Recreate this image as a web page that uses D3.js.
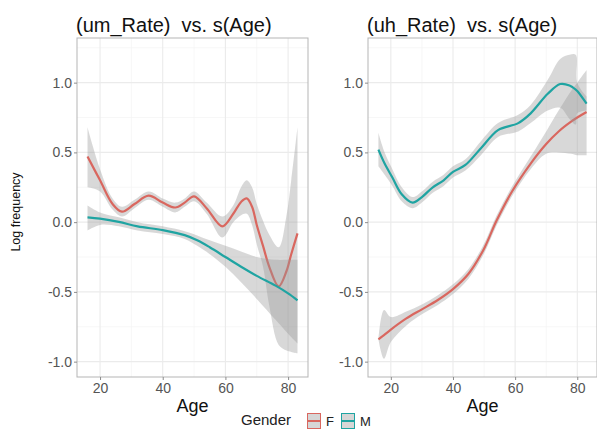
<!DOCTYPE html>
<html>
<head>
<meta charset="utf-8">
<script src="https://cdn.jsdelivr.net/npm/d3@7/dist/d3.min.js"></script>
<style>
  body { margin: 0; background: #fff; }
  text { font-family: "Liberation Sans", Arial, sans-serif; }
</style>
</head>
<body>
<div id="chart"></div>
<script>
var w = 597,
    h = 430;

// panel titles, ticks, legend
var titles = ["(um_Rate)  vs. s(Age)", "(uh_Rate)  vs. s(Age)"];
var xTicks = [20, 40, 60, 80],
    xMinor = [30, 50, 70],
    yTicks = [-1.0, -0.5, 0.0, 0.5, 1.0],
    yMinor = [-0.75, -0.25, 0.25, 0.75, 1.25];
var genders = ["F", "M"];

// um_Rate, F
var umAgeF = [16, 20, 24, 27, 31, 35.5, 40, 44, 47, 50, 54, 59, 62.5, 65, 66.8, 68.5, 70, 72, 74, 77, 79.5, 81, 83];
var umFitF = [0.47, 0.30, 0.13, 0.075, 0.13, 0.19, 0.14, 0.105, 0.14, 0.185, 0.10, -0.03, 0.06, 0.145, 0.17, 0.11, -0.02, -0.17, -0.32, -0.46, -0.35, -0.23, -0.08];
var umHiF  = [0.68, 0.38, 0.17, 0.11, 0.16, 0.22, 0.17, 0.14, 0.17, 0.22, 0.14, 0.04, 0.12, 0.25, 0.30, 0.25, 0.13, 0.01, -0.09, -0.18, 0.05, 0.30, 0.68];
var umLoF  = [0.25, 0.22, 0.09, 0.04, 0.10, 0.16, 0.11, 0.07, 0.11, 0.15, 0.06, -0.11, 0.00, 0.05, 0.06, -0.02, -0.16, -0.32, -0.60, -0.88, -0.92, -0.93, -0.94];

// um_Rate, M
var umAgeM = [16, 20, 26, 32, 40, 47, 51, 55, 60, 65, 70, 76, 80, 83];
var umFitM = [0.034, 0.025, 0.002, -0.03, -0.057, -0.093, -0.13, -0.18, -0.25, -0.32, -0.385, -0.455, -0.51, -0.56];
var umHiM  = [0.12, 0.07, 0.035, 0.0, -0.03, -0.065, -0.095, -0.13, -0.17, -0.21, -0.25, -0.27, -0.27, -0.27];
var umLoM  = [-0.06, -0.02, -0.03, -0.06, -0.085, -0.12, -0.17, -0.23, -0.32, -0.43, -0.55, -0.70, -0.80, -0.87];

// uh_Rate, F
var uhAgeF = [16, 17.8, 20, 25, 30, 35, 40, 45, 50, 54, 59, 65, 70, 74, 78, 80, 83];
var uhFitF = [-0.84, -0.81, -0.77, -0.69, -0.625, -0.56, -0.48, -0.37, -0.19, 0.01, 0.22, 0.42, 0.56, 0.65, 0.72, 0.75, 0.79];
var uhHiF  = [-0.84, -0.63, -0.68, -0.64, -0.59, -0.525, -0.445, -0.335, -0.155, 0.045, 0.255, 0.47, 0.65, 0.80, 0.94, 1.0, 1.09];
var uhLoF  = [-0.84, -0.98, -0.86, -0.74, -0.66, -0.595, -0.515, -0.405, -0.225, -0.025, 0.185, 0.38, 0.49, 0.50, 0.49, 0.48, 0.48];

// uh_Rate, M
var uhAgeM = [16, 18, 20.5, 23.5, 27, 30, 33.5, 37, 40, 44, 49, 54.5, 61, 65, 70.5, 74.5, 77.5, 79.5, 80, 83];
var uhFitM = [0.52, 0.42, 0.32, 0.20, 0.14, 0.18, 0.25, 0.30, 0.36, 0.41, 0.53, 0.66, 0.71, 0.78, 0.92, 0.99, 0.98, 0.95, 0.94, 0.85];
var uhHiM  = [0.64, 0.50, 0.38, 0.25, 0.18, 0.22, 0.29, 0.34, 0.40, 0.45, 0.58, 0.71, 0.77, 0.84, 1.02, 1.17, 1.20, 1.20, 1.00, 0.90];
var uhLoM  = [0.40, 0.34, 0.26, 0.15, 0.10, 0.14, 0.21, 0.26, 0.32, 0.37, 0.48, 0.61, 0.65, 0.71, 0.80, 0.82, 0.74, 0.70, 0.78, 0.80];

var colors = {F: "#d9675f", M: "#1fa4a2"};

var panels = [
  {title: titles[0], left: 77, right: 308,
   series: [{g: "F", age: umAgeF, fit: umFitF, lo: umLoF, hi: umHiF},
            {g: "M", age: umAgeM, fit: umFitM, lo: umLoM, hi: umHiM}]},
  {title: titles[1], left: 368, right: 597,
   series: [{g: "F", age: uhAgeF, fit: uhFitF, lo: uhLoF, hi: uhHiF},
            {g: "M", age: uhAgeM, fit: uhFitM, lo: uhLoM, hi: uhHiM}]}
];

var plotTop = 38, plotBottom = 377;

var svg = d3.select("#chart")
    .append("svg")
    .attr("width", w)
    .attr("height", h);

svg.append("rect").attr("width", w).attr("height", h).attr("fill", "#fff");

var y = d3.scaleLinear().domain([-1.11, 1.32]).range([plotBottom, plotTop]);
var smooth = d3.curveCatmullRom.alpha(0.5);

panels.forEach(function(p, pi) {
  var x = d3.scaleLinear().domain([12.65, 86.35]).range([p.left, p.right]);
  var g = svg.append("g");
  var clipId = "clip" + pi;

  g.append("clipPath").attr("id", clipId)
    .append("rect")
    .attr("x", p.left).attr("y", plotTop)
    .attr("width", p.right - p.left).attr("height", plotBottom - plotTop);

  // grid
  g.selectAll(".xmin").data(xMinor).enter().append("line")
    .attr("x1", function(d) { return x(d); }).attr("x2", function(d) { return x(d); })
    .attr("y1", plotTop).attr("y2", plotBottom)
    .attr("stroke", "#f3f3f3").attr("stroke-width", 0.7);
  g.selectAll(".ymin").data(yMinor).enter().append("line")
    .attr("x1", p.left).attr("x2", p.right)
    .attr("y1", function(d) { return y(d); }).attr("y2", function(d) { return y(d); })
    .attr("stroke", "#f3f3f3").attr("stroke-width", 0.7);
  g.selectAll(".xmaj").data(xTicks).enter().append("line")
    .attr("x1", function(d) { return x(d); }).attr("x2", function(d) { return x(d); })
    .attr("y1", plotTop).attr("y2", plotBottom)
    .attr("stroke", "#ebebeb").attr("stroke-width", 1.1);
  g.selectAll(".ymaj").data(yTicks).enter().append("line")
    .attr("x1", p.left).attr("x2", p.right)
    .attr("y1", function(d) { return y(d); }).attr("y2", function(d) { return y(d); })
    .attr("stroke", "#ebebeb").attr("stroke-width", 1.1);

  var plot = g.append("g").attr("clip-path", "url(#" + clipId + ")");

  p.series.forEach(function(s) {
    var pts = s.age.map(function(a, i) { return {a: a, f: s.fit[i], lo: s.lo[i], hi: s.hi[i]}; });
    var area = d3.area()
      .x(function(d) { return x(d.a); })
      .y0(function(d) { return y(d.lo); })
      .y1(function(d) { return y(d.hi); })
      .curve(smooth);
    var line = d3.line()
      .x(function(d) { return x(d.a); })
      .y(function(d) { return y(d.f); })
      .curve(smooth);
    plot.append("path").attr("d", area(pts))
      .attr("fill", "#999999").attr("fill-opacity", 0.38);
    plot.append("path").attr("d", line(pts))
      .attr("fill", "none").attr("stroke", colors[s.g]).attr("stroke-width", 2.2);
  });

  // panel border
  g.append("rect")
    .attr("x", p.left).attr("y", plotTop)
    .attr("width", p.right - p.left).attr("height", plotBottom - plotTop)
    .attr("fill", "none").attr("stroke", "#b5b5b5").attr("stroke-width", 1);

  // axes
  var xAxis = g.append("g").attr("transform", "translate(0," + plotBottom + ")")
    .call(d3.axisBottom(x).tickValues(xTicks).tickSize(3).tickPadding(3));
  var yAxis = g.append("g").attr("transform", "translate(" + p.left + ",0)")
    .call(d3.axisLeft(y).tickValues(yTicks).tickSize(3).tickPadding(2)
      .tickFormat(function(d) { return d3.format(".1f")(d).replace("\u2212", "-"); }));
  [xAxis, yAxis].forEach(function(a) {
    a.select(".domain").remove();
    a.selectAll(".tick line").attr("stroke", "#8c8c8c");
    a.selectAll(".tick text").attr("fill", "#555").attr("font-size", 14)
      .attr("font-family", "Liberation Sans, Arial, sans-serif");
  });

  // title
  g.append("text")
    .attr("x", p.left - 1).attr("y", 32)
    .attr("font-size", 20).attr("fill", "#111")
    .style("white-space", "pre")
    .text(p.title);

  // x label
  g.append("text")
    .attr("x", (p.left + p.right) / 2).attr("y", 412)
    .attr("text-anchor", "middle")
    .attr("font-size", 18).attr("fill", "#111")
    .text("Age");
});

// y label
svg.append("text")
  .attr("transform", "translate(20,212) rotate(-90)")
  .attr("text-anchor", "middle")
  .attr("font-size", 12.5).attr("fill", "#111")
  .text("Log frequency");

// legend
var legend = svg.append("g");
legend.append("text")
  .attr("x", 241).attr("y", 425)
  .attr("font-size", 15).attr("fill", "#222")
  .text("Gender");

var keyX = [307, 341];
genders.forEach(function(gd, i) {
  var k = legend.append("g").attr("transform", "translate(" + keyX[i] + ",413)");
  k.append("rect").attr("x", 0.5).attr("y", 0.5).attr("width", 13).attr("height", 15)
    .attr("fill", "#d6d6d6").attr("stroke", colors[gd]).attr("stroke-width", 1);
  k.append("line").attr("x1", 0.5).attr("x2", 13.5).attr("y1", 8).attr("y2", 8)
    .attr("stroke", colors[gd]).attr("stroke-width", 2);
  k.append("text").attr("x", 19).attr("y", 12.5)
    .attr("font-size", 13).attr("fill", "#222").text(gd);
});
</script>
</body>
</html>
